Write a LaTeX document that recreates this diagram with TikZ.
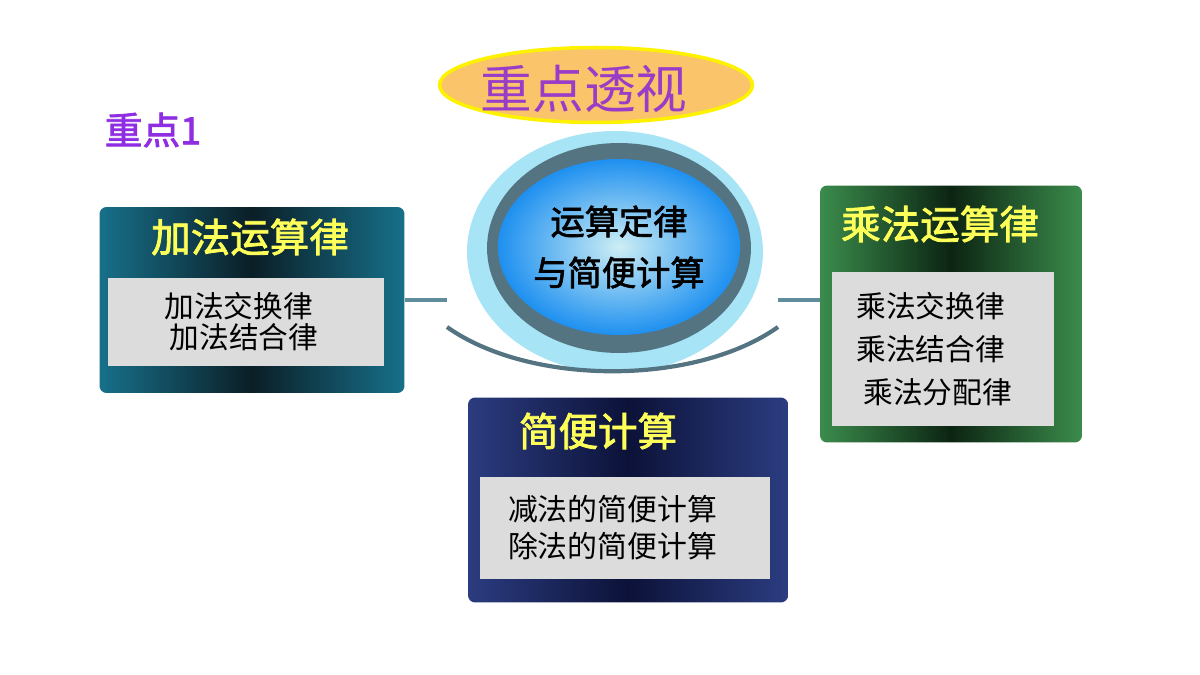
\documentclass[tikz,border=0pt]{standalone}
\usepackage{fontspec}
\newfontfamily\cjk[AutoFakeBold=2]{Noto Sans CJK SC}
\usetikzlibrary{shapes.geometric}
\definecolor{addteal}{HTML}{17708A}
\definecolor{adddark}{HTML}{0B1E26}
\definecolor{mulgreen}{HTML}{3B8C4C}
\definecolor{muldark}{HTML}{0C2412}
\definecolor{easynavy}{HTML}{2B3C80}
\definecolor{easydark}{HTML}{0C1238}
\definecolor{sheetgray}{HTML}{DCDCDC}
\definecolor{headyellow}{HTML}{FFFF5A}
\definecolor{haloblue}{HTML}{A6E4F6}
\definecolor{ringslate}{HTML}{557482}
\definecolor{coreblue}{HTML}{1E90F0}
\definecolor{corelight}{HTML}{CDEEF4}
\definecolor{linkgray}{HTML}{5F8D9C}
\definecolor{titleorange}{HTML}{F9C46A}
\definecolor{titlepurple}{HTML}{9A3CC8}
\definecolor{keyviolet}{HTML}{8E2DE2}

\begin{document}
\begin{tikzpicture}[x=0.02cm,y=-0.02cm]
\tikzstyle{every node}=[font=\cjk,inner sep=0pt]
\tikzstyle{panel}=[rectangle,rounded corners=4pt]
\tikzstyle{sheet}=[rectangle,fill=sheetgray,align=left]
\tikzstyle{head}=[text=headyellow,font=\cjk\fontsize{22.5}{24}\selectfont\bfseries]
\tikzstyle{link}=[draw=linkgray,line width=2.2pt]
\tikzstyle{bow}=[draw=ringslate,line width=2.4pt]
\useasboundingbox (0,0) rectangle (1200,675);

% title and key
\node[ellipse,draw=yellow,line width=2pt,fill=titleorange,minimum width=6.26cm,minimum height=1.5cm] (title) at (596,85) {};
\node[text=titlepurple,font=\cjk\fontsize{29.4}{30}\selectfont] (titleT) at (584,89) {重点透视};
\node[text=keyviolet,font=\cjk\fontsize{21.5}{22}\selectfont\bfseries] (key) at (153,130) {重点1};

% three panels
\node[panel,left color=addteal,right color=addteal,middle color=adddark,minimum width=6.1cm,minimum height=3.72cm] (add) at (252,300) {};
\node[head] (addT) at (250,237) {加法运算律};
\node[sheet,minimum width=5.54cm,minimum height=1.78cm,inner xsep=1.14cm,text width=3.26cm,
  font=\cjk\fontsize{16.9}{17.6}\selectfont] (addS) at (246,322) {加法交换律\\\hspace{3pt}加法结合律};

\node[panel,left color=mulgreen,right color=mulgreen,middle color=muldark,minimum width=5.24cm,minimum height=5.14cm] (mul) at (951,314) {};
\node[head] (mulT) at (940,224) {乘法运算律};
\node[sheet,minimum width=4.46cm,minimum height=3.1cm,inner xsep=0.5cm,text width=3.46cm,
  font=\cjk\fontsize{16.9}{24.4}\selectfont] (mulS) at (943,349) {乘法交换律\\乘法结合律\\\hspace{4pt}乘法分配律};

\node[panel,left color=easynavy,right color=easynavy,middle color=easydark,minimum width=6.4cm,minimum height=4.1cm] (easy) at (628,500) {};
\node[head] (easyT) at (598,431) {简便计算};
\node[sheet,minimum width=5.8cm,minimum height=2.04cm,inner xsep=0.56cm,text width=4.68cm,
  font=\cjk\fontsize{17}{21}\selectfont] (easyS) at (625,528) {减法的简便计算\\除法的简便计算};

% connectors
\coordinate (jl) at (447,300);
\coordinate (jr) at (778,300);
\draw[link] (add.east |- jl) -- (jl);
\draw[link] (jr) -- (mul.west |- jr);

% centre
\node[ellipse,fill=haloblue,minimum width=5.92cm,minimum height=4.84cm] (halo) at (615,252) {};
\node[ellipse,fill=ringslate,minimum width=5.28cm,minimum height=4.2cm] (ring) at (619,248) {};
\node[ellipse,inner color=corelight,outer color=coreblue,minimum width=4.6cm,minimum height=3.52cm,
  align=center,font=\cjk\fontsize{19.5}{29}\selectfont\bfseries] (core) at (619,247) {运算定律\\与简便计算};

\coordinate (arcL) at (447,327);
\coordinate (arcR) at (778,327);
\draw[bow] (arcL) .. controls (530,386) and (695,386) .. (arcR);
\end{tikzpicture}
\end{document}
